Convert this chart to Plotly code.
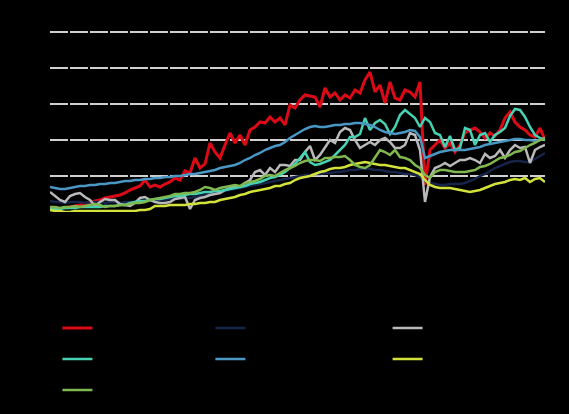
import plotly.graph_objects as go

# observation index (one point per period)
periods = list(range(100))

# series values (index level)
red = [None, None, None,
       4, 5, 6, 7, 8, 10, 11, 12, 14, 15, 16, 17, 19, 22, 24, 26, 32,
       25, 27, 25, 28, 30, 34, 32, 41, 39, 54, 44, 48, 69, 60, 54, 67,
       79, 69, 77, 67, 82, 85, 90, 89, 95, 90, 94, 87, 107, 104, 112, 117,
       116, 115, 105, 124, 115, 119, 112, 117, 114, 122, 119, 132, 140, 120, 127, 109,
       130, 114, 112, 122, 120, 115, 130, 27, 62, 67, 72, 64, 69, 60, 67, 79,
       82, 84, 80, 74, 79, 76, 82, 94, 100, 90, 85, 82, 77, 75, 84, 72]
navy = [11, 10, 10, 9, 10, 10, 10, 9, 10, 10, 10, 9, 10, 10, 9, 10, 10, 10, 11, 11,
        11, 12, 12, 12, 13, 13, 13, 14, 14, 15, 16, 17, 18, 19, 20, 21, 22, 23, 24, 25,
        26, 27, 28, 29, 30, 31, 32, 33, 34, 35, 36, 37, 37, 38, 38, 39, 39, 40, 40, 41,
        42, 42, 43, 43, 43, 42, 42, 41, 40, 40, 39, 38, 38, 37, 35, 31, 29, 28, 27, 27,
        28, 28, 28, 29, 31, 33, 36, 38, 41, 44, 46, 48, 50, 51, 51, 50, 50, 53, 56, 59]
gray = [20, 16, 12, 10, 16, 18, 19, 15, 12, 6, 10, 13, 12, 12, 8, 7, 6, 9, 14, 15,
        12, 10, 9, 9, 10, 13, 14, 15, 3, 12, 14, 15, 17, 18, 19, 22, 24, 26, 25, 29,
        32, 40, 42, 37, 44, 40, 47, 47, 46, 52, 52, 60, 66, 52, 57, 64, 72, 69, 80, 84,
        82, 72, 64, 67, 70, 67, 72, 74, 70, 64, 64, 67, 79, 77, 62, 10, 35, 44, 46, 49,
        46, 49, 52, 52, 54, 52, 49, 58, 54, 56, 62, 54, 62, 67, 64, 65, 49, 62, 65, 67]
teal = [3, 3, 3, 4, 4, 4, 5, 5, 5, 5, 5, 6, 6, 6, 7, 7, 9, 10, 11, 11,
        12, 13, 13, 14, 15, 16, 16, 17, 18, 18, 19, 20, 20, 21, 21, 22, 23, 24, 25, 26,
        28, 29, 30, 32, 34, 35, 37, 40, 44, 48, 54, 60, 50, 47, 48, 50, 52, 57, 62, 67,
        75, 75, 78, 94, 82, 89, 92, 88, 78, 85, 97, 102, 98, 94, 85, 94, 90, 79, 77, 65,
        76, 62, 64, 84, 82, 67, 77, 79, 70, 77, 80, 84, 96, 103, 102, 95, 85, 77, 74, 72]
blue = [25, 24, 23, 23, 24, 25, 26, 26, 27, 27, 28, 28, 29, 29, 30, 31, 31, 32, 32, 33,
        33, 34, 34, 35, 35, 36, 36, 37, 38, 38, 39, 40, 41, 42, 44, 45, 46, 47, 49, 52,
        54, 57, 59, 62, 64, 66, 67, 70, 74, 77, 80, 83, 85, 86, 85, 85, 86, 87, 87, 88,
        88, 89, 89, 88, 87, 85, 82, 80, 79, 78, 79, 80, 82, 81, 75, 54, 56, 58, 60, 61,
        62, 62, 62, 62, 63, 64, 65, 67, 68, 69, 70, 71, 72, 73, 73, 72, 72, 71, 72, 74]
yellow = [2, 1, 1, 0, 0, 1, 1, 1, 1, 1, 1, 1, 1, 1, 1, 1, 1, 1, 2, 2,
          3, 6, 6, 6, 7, 7, 7, 7, 8, 8, 9, 9, 10, 10, 12, 13, 14, 15, 17, 18,
          20, 21, 22, 23, 24, 26, 26, 28, 29, 32, 34, 35, 36, 38, 40, 41, 43, 44, 44, 45,
          47, 48, 49, 50, 49, 48, 47, 47, 46, 45, 44, 44, 42, 40, 38, 32, 27, 25, 24, 24,
          24, 23, 22, 21, 20, 21, 22, 24, 26, 28, 29, 30, 32, 33, 32, 34, 30, 33, 34, 30]
green = [5, 5, 4, 5, 5, 6, 5, 6, 7, 8, 7, 5, 6, 6, 7, 7, 8, 9, 9, 10,
         12, 13, 14, 15, 16, 18, 18, 19, 19, 20, 22, 25, 24, 22, 24, 25, 26, 27, 26, 29,
         30, 31, 33, 36, 37, 36, 39, 42, 44, 46, 49, 51, 52, 52, 51, 54, 54, 55, 55, 56,
         52, 47, 45, 44, 47, 54, 62, 60, 57, 62, 55, 54, 52, 47, 44, 37, 34, 40, 42, 42,
         41, 40, 40, 40, 41, 42, 45, 46, 48, 51, 54, 55, 57, 60, 61, 64, 67, 69, 72, 74]

series = [
    ("Series 1", red, "#dc0a17", 3),
    ("Series 2", navy, "#16244a", 2.5),
    ("Series 3", gray, "#b9b9b9", 2.5),
    ("Series 4", teal, "#46d2b2", 2.5),
    ("Series 5", blue, "#4b97c3", 2.5),
    ("Series 6", yellow, "#d3e23a", 2.5),
    ("Series 7", green, "#80b84f", 2.5),
]
# which legend box each series goes into (three columns)
legend_of = ["legend", "legend2", "legend3", "legend", "legend2", "legend3", "legend"]

fig = go.Figure()
for (name, vals, color, width), lg in zip(series, legend_of):
    fig.add_trace(go.Scatter(
        x=periods, y=vals, name=name, mode="lines",
        line=dict(color=color, width=width),
        legend=lg,
    ))

legend_style = dict(
    orientation="v", xref="paper", yref="paper",
    yanchor="top", xanchor="left", y=-0.525,
    font=dict(size=21.5, color="black", family="Liberation Sans"),
    bgcolor="rgba(0,0,0,0)", tracegroupgap=0,
)

fig.update_layout(
    width=569, height=414,
    paper_bgcolor="black", plot_bgcolor="black",
    margin=dict(l=50, r=24, t=30, b=202, autoexpand=False),
    font=dict(family="Liberation Sans", color="black", size=12),
    showlegend=True,
    legend=dict(legend_style, x=0.015),
    legend2=dict(legend_style, x=0.324),
    legend3=dict(legend_style, x=0.682),
    xaxis=dict(range=[0, 99], showgrid=False, zeroline=False, showline=False,
               showticklabels=False, ticks=""),
    yaxis=dict(range=[0, 182], tickvals=[36, 72, 108, 144, 180],
               showgrid=True, gridcolor="#d0d0d0", gridwidth=1.5, griddash="18px,2px",
               zeroline=False, showline=False, tickfont=dict(color="black")),
)

fig.write_html(
    "out.html",
    config={"displayModeBar": False},
    post_script="document.body.style.margin='0';document.body.style.background='black';",
)
